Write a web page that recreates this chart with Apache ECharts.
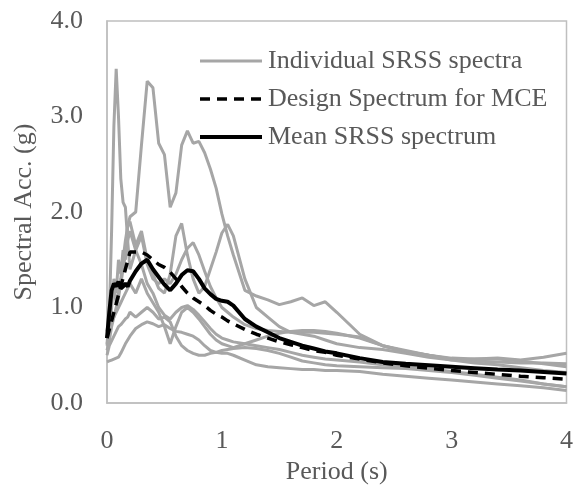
<!DOCTYPE html>
<html>
<head>
<meta charset="utf-8">
<script src="https://cdn.jsdelivr.net/npm/echarts@6/dist/echarts.min.js"></script>
<style>
  html, body { margin: 0; padding: 0; background: #fff; }
  #chart { width: 576px; height: 490px; }
</style>
</head>
<body>
<div id="chart"></div>
<script>
// Periods (s) shared by all spectra
const periods = [0,0.02,0.04,0.06,0.08,0.1,0.12,0.14,0.16,0.18,0.2,0.25,0.3,0.35,0.4,0.45,0.5,0.55,0.6,0.65,0.7,0.75,0.8,0.85,0.9,0.95,1.0,1.05,1.1,1.2,1.3,1.4,1.5,1.6,1.7,1.8,1.9,2.0,2.2,2.4,2.6,2.8,3.0,3.2,3.4,3.6,3.8,4.0];

// Individual SRSS spectra (g)
const record1 = [0.62,0.9,1.8,2.9,3.5,3.0,2.35,2.1,2.05,1.7,1.4,1.6,1.45,1.25,1.15,1.0,0.92,0.88,0.95,1.0,1.02,0.98,0.92,0.85,0.78,0.72,0.68,0.66,0.64,0.62,0.6,0.58,0.56,0.53,0.5,0.48,0.46,0.45,0.43,0.4,0.38,0.36,0.33,0.3,0.27,0.24,0.2,0.17];
const record2 = [0.75,0.95,1.1,1.2,1.05,1.15,1.3,1.5,1.7,1.85,1.95,2.0,2.7,3.37,3.3,2.72,2.6,2.05,2.2,2.7,2.85,2.72,2.74,2.62,2.45,2.25,1.98,1.75,1.55,1.18,1.12,1.08,1.03,1.06,1.1,1.02,1.06,0.95,0.72,0.6,0.54,0.5,0.46,0.44,0.43,0.42,0.42,0.41];
const record3 = [0.6,0.8,1.0,1.3,1.15,1.5,1.35,1.6,1.5,1.85,1.9,1.65,1.8,1.5,1.35,1.2,1.15,1.35,1.75,1.88,1.55,1.3,1.15,1.22,1.4,1.58,1.78,1.87,1.75,1.3,1.0,0.9,0.8,0.74,0.74,0.74,0.73,0.72,0.69,0.6,0.54,0.5,0.47,0.46,0.46,0.44,0.41,0.38];
const record4 = [0.55,0.65,0.8,0.9,1.0,1.1,1.25,1.4,1.55,1.7,1.8,1.6,1.75,1.45,1.3,1.25,1.3,1.25,1.35,1.5,1.62,1.68,1.55,1.38,1.22,1.1,1.0,0.95,0.9,0.82,0.78,0.76,0.75,0.74,0.72,0.7,0.66,0.62,0.58,0.56,0.52,0.48,0.45,0.46,0.47,0.45,0.48,0.52];
const record5 = [0.68,0.75,0.85,0.9,0.95,1.0,1.05,1.1,1.15,1.2,1.25,1.15,1.3,1.15,1.05,0.95,0.8,0.62,0.8,0.95,1.0,0.95,0.88,0.8,0.72,0.66,0.62,0.6,0.58,0.62,0.66,0.7,0.73,0.75,0.76,0.76,0.75,0.73,0.68,0.6,0.55,0.5,0.45,0.42,0.4,0.37,0.34,0.32];
const record6 = [0.43,0.44,0.45,0.46,0.47,0.48,0.52,0.57,0.62,0.66,0.7,0.78,0.82,0.85,0.83,0.8,0.82,0.78,0.75,0.74,0.72,0.7,0.66,0.6,0.55,0.53,0.52,0.52,0.5,0.45,0.4,0.38,0.37,0.36,0.35,0.35,0.34,0.34,0.33,0.3,0.28,0.26,0.24,0.22,0.2,0.18,0.16,0.13];
const record7 = [0.5,0.6,0.65,0.7,0.75,0.8,0.82,0.85,0.88,0.9,0.95,0.9,0.95,1.0,0.95,0.88,0.9,0.85,0.7,0.6,0.55,0.52,0.5,0.5,0.52,0.53,0.55,0.56,0.57,0.58,0.57,0.55,0.52,0.48,0.44,0.42,0.4,0.39,0.38,0.37,0.36,0.34,0.32,0.29,0.26,0.23,0.2,0.17];
const individualSpectra = [record1, record2, record3, record4, record5, record6, record7];

// Design spectrum for MCE (g)
const designMCE = [0.68,0.77,0.86,0.95,1.04,1.13,1.22,1.31,1.4,1.49,1.58,1.58,1.58,1.55,1.5,1.45,1.42,1.37,1.3,1.22,1.15,1.1,1.06,1.02,0.97,0.93,0.9,0.86,0.83,0.77,0.72,0.68,0.64,0.61,0.58,0.55,0.53,0.5,0.46,0.42,0.39,0.365,0.34,0.32,0.3,0.28,0.265,0.25];

// Mean SRSS spectrum (g)
const meanSRSS = [0.68,0.95,1.18,1.25,1.22,1.27,1.2,1.22,1.25,1.22,1.28,1.38,1.46,1.5,1.4,1.32,1.24,1.18,1.25,1.34,1.39,1.38,1.3,1.2,1.14,1.09,1.07,1.06,1.02,0.88,0.8,0.74,0.68,0.64,0.6,0.57,0.54,0.52,0.47,0.43,0.41,0.395,0.38,0.365,0.35,0.34,0.325,0.31];

const legendNames = ['Individual SRSS spectra', 'Design Spectrum for MCE', 'Mean SRSS spectrum'];
const xTicks = [0, 1, 2, 3, 4];
const yTicks = [0, 1, 2, 3, 4];

const FONT = '"Liberation Serif", "Times New Roman", serif';
const TEXT_COLOR = '#595959';
const FRAME_COLOR = '#bfbfbf';

// Line styles for each kind of curve
const grayStyle = { color: '#a6a6a6', width: 3 };
const designStyle = { color: '#000', width: 3.5, type: [10, 7] };
const meanStyle = { color: '#000', width: 4 };

const pairs = vals => periods.map((t, i) => [t, vals[i]]);

const series = individualSpectra.map(vals => ({
  name: legendNames[0],
  type: 'line',
  data: pairs(vals),
  symbol: 'none',
  lineStyle: grayStyle,
  itemStyle: { color: grayStyle.color },
  z: 2
}));
series.push({
  name: legendNames[1],
  type: 'line',
  data: pairs(designMCE),
  symbol: 'none',
  lineStyle: designStyle,
  itemStyle: { color: '#000' },
  z: 3
});
series.push({
  name: legendNames[2],
  type: 'line',
  data: pairs(meanSRSS),
  symbol: 'none',
  lineStyle: meanStyle,
  itemStyle: { color: '#000' },
  z: 4
});

const chart = echarts.init(document.getElementById('chart'), null, { renderer: 'canvas' });
chart.setOption({
  animation: false,
  backgroundColor: '#fff',
  textStyle: { fontFamily: FONT },
  grid: {
    left: 107, right: 3, top: 21, bottom: 82,
    show: true, borderColor: FRAME_COLOR, borderWidth: 1.5, containLabel: false
  },
  legend: {
    data: [
      { name: legendNames[0], lineStyle: grayStyle },
      { name: legendNames[1], lineStyle: designStyle },
      { name: legendNames[2], lineStyle: meanStyle }
    ],
    orient: 'vertical',
    left: 198, top: 48, padding: 0,
    itemWidth: 62, itemHeight: 14, itemGap: 12,
    itemStyle: { opacity: 0 },
    textStyle: { fontFamily: FONT, fontSize: 26, color: TEXT_COLOR, padding: [0, 0, 0, 1] }
  },
  xAxis: {
    type: 'value',
    min: xTicks[0], max: xTicks[xTicks.length - 1], interval: 1,
    name: 'Period (s)',
    nameLocation: 'middle', nameGap: 56,
    nameTextStyle: { fontFamily: FONT, fontSize: 26, color: TEXT_COLOR },
    axisLine: { show: true, lineStyle: { color: FRAME_COLOR, width: 1.5 } },
    axisTick: { show: false },
    splitLine: { show: false },
    axisLabel: { fontFamily: FONT, fontSize: 26, color: TEXT_COLOR, margin: 25 }
  },
  yAxis: {
    type: 'value',
    min: yTicks[0], max: yTicks[yTicks.length - 1], interval: 1,
    name: 'Spectral Acc. (g)',
    nameLocation: 'middle', nameGap: 70,
    nameTextStyle: { fontFamily: FONT, fontSize: 26, color: TEXT_COLOR },
    axisLine: { show: true, lineStyle: { color: FRAME_COLOR, width: 1.5 } },
    axisTick: { show: false },
    splitLine: { show: false },
    axisLabel: {
      fontFamily: FONT, fontSize: 26, color: TEXT_COLOR, margin: 24,
      formatter: v => v.toFixed(1)
    }
  },
  series: series
});
</script>
</body>
</html>
